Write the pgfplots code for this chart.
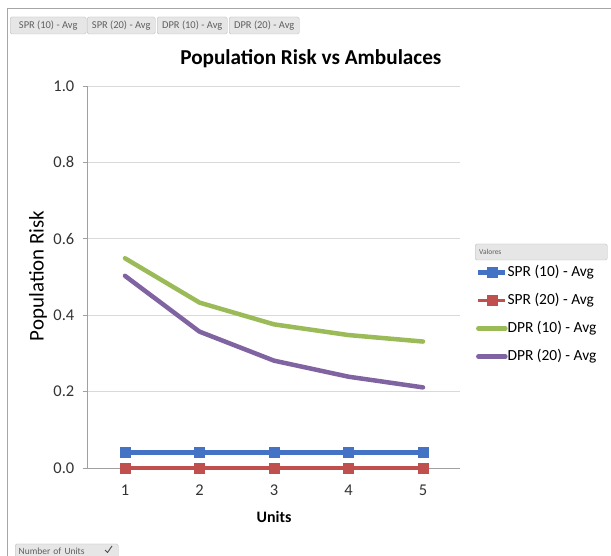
\documentclass[border=0pt]{standalone}
\usepackage{pgfplots}
\pgfplotsset{compat=1.18}
\usepackage{fontspec}
\setmainfont{Carlito}
\definecolor{cblue}{RGB}{68,114,196}
\definecolor{cred}{RGB}{192,80,77}
\definecolor{cgreen}{RGB}{155,187,89}
\definecolor{cpurple}{RGB}{128,100,162}
\definecolor{gridc}{RGB}{217,217,217}
\definecolor{axc}{RGB}{160,160,160}
\definecolor{btnfill}{RGB}{230,230,230}
\definecolor{btndraw}{RGB}{185,185,185}
\definecolor{btntext}{RGB}{95,95,95}
\newcommand{\tickfont}{\fontsize{16.5}{19}\selectfont}
\newcommand{\ylabfont}{\fontsize{21}{25}\selectfont}
\begin{document}
\begin{tikzpicture}
\useasboundingbox (0,0) rectangle (611bp,556bp);
\fill[white] (0,0) rectangle (611bp,556bp);
% frame
\draw[gray!70, line width=1bp] (7bp,0) -- (7bp,547bp) -- (611bp,547bp);
% field buttons
\tikzset{btn/.style={draw=btndraw, fill=btnfill, rounded corners=1.5bp, inner sep=0pt, minimum height=17bp, text=btntext, font=\fontsize{10.5}{12}\selectfont, anchor=west}}
\node[btn, minimum width=76bp] at (10bp,530.5bp) {SPR (10) - Avg};
\node[btn, minimum width=68bp] at (87bp,530.5bp) {SPR (20) - Avg};
\node[btn, minimum width=70bp] at (157bp,530.5bp) {DPR (10) - Avg};
\node[btn, minimum width=70bp] at (229bp,530.5bp) {DPR (20) - Avg};
\node[btn, minimum width=132bp, minimum height=16bp, text width=128bp, align=left, font=\fontsize{7.5}{9}\selectfont] at (475bp,304bp) {\hspace*{2bp}Valores};
\node[btn, minimum width=103bp, minimum height=14bp, text width=100bp, align=left, font=\fontsize{9.5}{11}\selectfont] at (15bp,5bp) {\hspace*{2bp}Number of Units};
\draw[black!70, line width=0.9bp] (105bp,6bp) -- (107.5bp,3.5bp) -- (112bp,10bp);
\begin{axis}[
  at={(87.75bp,88bp)}, anchor=south west,
  scale only axis, width=372.5bp, height=382bp,
  xmin=0.5, xmax=5.5, ymin=0, ymax=1,
  axis x line=bottom, axis y line=left,
  axis line style={axc, line width=0.8bp, -},
  xtick={1,2,3,4,5},
  xticklabels={{\tickfont 1},{\tickfont 2},{\tickfont 3},{\tickfont 4},{\tickfont 5}},
  extra x ticks={0.5,1.5,2.5,3.5,4.5,5.5},
  extra x tick labels={},
  extra x tick style={major tick length=5bp, tick style={axc, line width=0.8bp}, grid=none},
  ytick={0,0.2,0.4,0.6,0.8,1.0},
  yticklabels={{\tickfont 0.0},{\tickfont 0.2},{\tickfont 0.4},{\tickfont 0.6},{\tickfont 0.8},{\tickfont 1.0}},
  tick align=outside,
  x tick style={draw=none},
  y tick style={axc, line width=0.8bp},
  major tick length=5bp,
  ymajorgrids, grid style={gridc, line width=0.8bp},
  tick label style={text=black!80},
  xticklabel shift=8bp, yticklabel shift=5bp,
  title={\textbf{Population Risk vs Ambulaces}},
  title style={at={(axis description cs:0.599,1.055)}, anchor=center, font=\fontsize{21.3}{25}\selectfont},
  xlabel={\textbf{Units}},
  xlabel style={at={(axis description cs:0.5,-0.128)}, anchor=center, font=\fontsize{16}{19}\selectfont},
  ylabel={\ylabfont Population Risk},
  ylabel style={at={(axis description cs:-0.1336,0.503)}, anchor=center},
  legend style={at={(axis description cs:1.042,0.531)}, anchor=north west, draw=none, fill=none, font=\fontsize{15.5}{18}\selectfont, row sep=14bp, inner sep=0pt, nodes={inner sep=0pt, text height=11bp, text depth=3bp}},
  legend cell align=left,
  legend image code/.code={\draw[#1] (0bp,0bp) -- (27bp,0bp); \draw[#1, only marks] plot coordinates {(13.5bp,0bp)};},
  clip=false,
]
\addplot[cblue, line width=4.5bp, mark=square*, mark size=5bp, mark options={line width=0.5bp, fill=cblue}] coordinates {(1,0.04) (2,0.04) (3,0.04) (4,0.04) (5,0.04)};
\addlegendentry{SPR (10) - Avg}
\addplot[cred, line width=3bp, mark=square*, mark size=5bp, mark options={line width=0.5bp, fill=cred}] coordinates {(1,0) (2,0) (3,0) (4,0) (5,0)};
\addlegendentry{SPR (20) - Avg}
\addplot[cgreen, line width=4.5bp, line cap=round, line join=round, mark=none] coordinates {(1,0.549) (2,0.433) (3,0.376) (4,0.348) (5,0.331)};
\addlegendentry{DPR (10) - Avg}
\addplot[cpurple, line width=4.5bp, line cap=round, line join=round, mark=none] coordinates {(1,0.503) (2,0.357) (3,0.281) (4,0.239) (5,0.211)};
\addlegendentry{DPR (20) - Avg}
\end{axis}
\end{tikzpicture}
\end{document}
